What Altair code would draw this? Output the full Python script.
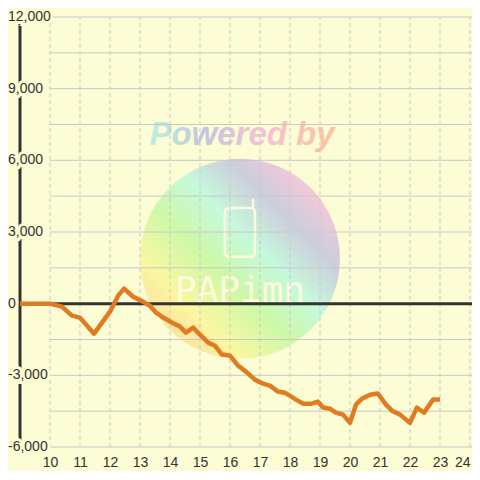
import altair as alt
import pandas as pd

# ---- data ----
hours = [9.0, 10.0, 10.4, 10.73, 11.0, 11.47, 12.0, 12.27, 12.47, 12.77,
         13.1, 13.33, 13.53, 13.73, 14.07, 14.33, 14.53, 14.77, 15.0, 15.27,
         15.5, 15.73, 16.0, 16.27, 16.53, 16.83, 17.1, 17.33, 17.6, 17.83,
         18.2, 18.43, 18.73, 18.93, 19.1, 19.33, 19.53, 19.77, 20.0, 20.2,
         20.4, 20.67, 20.93, 21.2, 21.4, 21.67, 22.0, 22.23, 22.47, 22.77, 23.0]
values = [0, 0, -125, -500, -585, -1255, -335, 335, 630, 290,
          85, -85, -375, -545, -795, -960, -1215, -1005, -1300, -1630,
          -1760, -2130, -2175, -2595, -2845, -3180, -3350, -3430, -3680, -3725,
          -4015, -4185, -4185, -4100, -4350, -4395, -4560, -4645, -4990, -4225,
          -3975, -3810, -3760, -4225, -4480, -4645, -4990, -4350, -4560, -4015, -4015]

x_ticks = list(range(10, 25))
y_ticks = [-6000, -3000, 0, 3000, 6000, 9000, 12000]
y_labels = ["-6,000", "-3,000", "0", "3,000", "6,000", "9,000", "12,000"]
y_grid = [-6000, -4500, -3000, -1500, 1500, 3000, 4500, 6000, 7500, 9000, 10500, 12000]

x_min, x_max = 9.0, 24.067
y_min, y_max = -6000, 12000

# watermark pieces
wm_center = [16.333, 1880]
wm_title = ["Powered by", 16.4, 6650]
wm_brand = ["PAPimn", 16.333, 90]
phone_box = [15.83, 16.83, 1960, 4000]
phone_ant = [16.77, 16.77, 3950, 4380]

BG = "#fcfcd5"
GRID = "#c8c8c8"
DARK = "#333333"
ORANGE = "#e07b22"
CREAM = "#fdfbdc"

xs = alt.Scale(domain=[x_min, x_max], nice=False, zero=False)
ys = alt.Scale(domain=[y_min, y_max], nice=False, zero=False)
xax = alt.Axis(values=x_ticks, domain=False, ticks=False, grid=False,
               labelFontSize=14, labelColor=DARK, labelFont="Liberation Sans",
               labelPadding=8, labelFlush=False, format="d",
               labelAlign=alt.condition("datum.value == 24", alt.value("right"), alt.value("center")))


def X(f):
    return alt.X(f, scale=xs, axis=xax, title=None)


def Y(f):
    return alt.Y(f, scale=ys, axis=None, title=None)


line_df = pd.DataFrame({"x": hours, "y": values})
hgrid_df = pd.DataFrame({"y": y_grid, "x0": x_min + 1, "x1": x_max})
vgrid_df = pd.DataFrame({"x": x_ticks, "y0": y_min, "y1": y_max})
zero_df = pd.DataFrame({"y": [0], "x0": [x_min + 1], "x1": [x_max]})
yaxis_df = pd.DataFrame({"x": [x_min], "y0": [y_min], "y1": [y_max]})
ylab_df = pd.DataFrame({"x": x_min, "y": y_ticks, "label": y_labels})
circ_df = pd.DataFrame({"x": [wm_center[0]], "y": [wm_center[1]]})
title_df = pd.DataFrame({"t": [wm_title[0]], "x": [wm_title[1]], "y": [wm_title[2]]})
brand_df = pd.DataFrame({"t": [wm_brand[0]], "x": [wm_brand[1]], "y": [wm_brand[2]]})
box_df = pd.DataFrame({"x0": [phone_box[0]], "x1": [phone_box[1]],
                       "y0": [phone_box[2]], "y1": [phone_box[3]]})
ant_df = pd.DataFrame({"x0": [phone_ant[0]], "y0": [phone_ant[2]], "y1": [phone_ant[3]]})

circ_grad = alt.LinearGradient(
    gradient="linear", x1=0, y1=1, x2=1, y2=0,
    stops=[alt.GradientStop(color="#fbc9a0", offset=0),
           alt.GradientStop(color="#fbf7a0", offset=0.25),
           alt.GradientStop(color="#cdf8a8", offset=0.42),
           alt.GradientStop(color="#c6f9db", offset=0.57),
           alt.GradientStop(color="#cccddc", offset=0.72),
           alt.GradientStop(color="#fbc8d8", offset=0.88),
           alt.GradientStop(color="#fbd0dc", offset=1)])
text_grad = alt.LinearGradient(
    gradient="linear", x1=0, y1=0, x2=1, y2=0,
    stops=[alt.GradientStop(color="#b8f2dc", offset=0),
           alt.GradientStop(color="#c2c6de", offset=0.3),
           alt.GradientStop(color="#f6c2d4", offset=0.6),
           alt.GradientStop(color="#fcc49a", offset=1)])

circle = alt.Chart(circ_df).mark_circle(size=40000, opacity=1, fill=circ_grad).encode(
    x=X("x:Q"), y=Y("y:Q"))
wm_text = alt.Chart(title_df).mark_text(
    fontSize=33, fontWeight="bold", fontStyle="italic", font="Liberation Sans",
    fill=text_grad, align="center", baseline="alphabetic").encode(
    x=X("x:Q"), y=Y("y:Q"), text="t:N")
box = alt.Chart(box_df).mark_rect(fillOpacity=0, stroke=CREAM, strokeWidth=2.5,
                                  cornerRadius=4).encode(
    x=X("x0:Q"), x2="x1:Q", y=Y("y0:Q"), y2="y1:Q")
ant = alt.Chart(ant_df).mark_rule(stroke=CREAM, strokeWidth=2.5).encode(
    x=X("x0:Q"), y=Y("y0:Q"), y2="y1:Q")
brand = alt.Chart(brand_df).mark_text(
    fontSize=36, font="DejaVu Sans Mono", fill=CREAM, align="center",
    baseline="alphabetic").encode(x=X("x:Q"), y=Y("y:Q"), text="t:N")

hgrid = alt.Chart(hgrid_df).mark_rule(stroke=GRID, strokeWidth=1).encode(
    x=X("x0:Q"), x2="x1:Q", y=Y("y:Q"))
vgrid = alt.Chart(vgrid_df).mark_rule(stroke=GRID, strokeWidth=1, strokeDash=[4, 3]).encode(
    x=X("x:Q"), y=Y("y0:Q"), y2="y1:Q")
zero = alt.Chart(zero_df).mark_rule(stroke=DARK, strokeWidth=3).encode(
    x=X("x0:Q"), x2="x1:Q", y=Y("y:Q"))
yaxis = alt.Chart(yaxis_df).mark_rule(stroke=DARK, strokeWidth=3).encode(
    x=X("x:Q"), y=Y("y0:Q"), y2="y1:Q")
halo = alt.Chart(ylab_df).mark_text(
    align="left", baseline="middle", dx=-12, fontSize=14, font="Liberation Sans",
    fill=BG, stroke=BG, strokeWidth=6).encode(x=X("x:Q"), y=Y("y:Q"), text="label:N")
ylabels = alt.Chart(ylab_df).mark_text(
    align="left", baseline="middle", dx=-12, fontSize=14, font="Liberation Sans",
    fill=DARK).encode(x=X("x:Q"), y=Y("y:Q"), text="label:N")
line = alt.Chart(line_df).mark_line(stroke=ORANGE, strokeWidth=4.5, strokeJoin="round").encode(
    x=X("x:Q"), y=Y("y:Q"))

chart = alt.layer(circle, wm_text, box, ant, brand, hgrid, vgrid, zero, yaxis,
                  halo, ylabels, line).properties(
    width=452, height=430,
    autosize=alt.AutoSizeParams(type="none"),
    padding={"left": 12, "top": 9, "right": 0, "bottom": 24},
    background=BG,
).configure_view(stroke=None)

chart.save("out.html", embed_options={"renderer": "svg", "actions": False})
